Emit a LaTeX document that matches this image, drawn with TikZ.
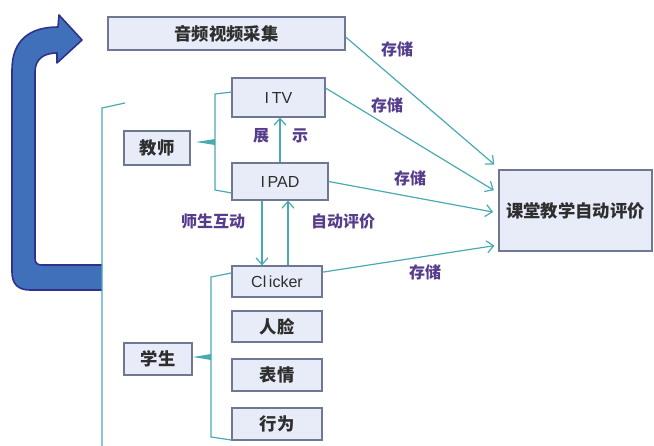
\documentclass[tikz,border=0pt]{standalone}
\usepackage{fontspec}
\setmainfont{Liberation Sans}
\newfontfamily\cjk{Noto Sans CJK SC}
\usetikzlibrary{arrows.meta,calc}
\definecolor{tealc}{HTML}{4AAAB2}
\definecolor{boxline}{HTML}{6E7892}
\definecolor{boxfill}{HTML}{E7ECF8}
\definecolor{txt}{HTML}{2E2E2E}
\definecolor{lblc}{HTML}{563C8C}
\definecolor{bigblue}{HTML}{4070BA}
\definecolor{bignavy}{HTML}{2F318C}
\begin{document}
\begin{tikzpicture}[x=0.75pt,y=-0.75pt,
  box/.style={draw=boxline, fill=boxfill, line width=0.9pt, inner sep=0pt, text=txt,
    font=\cjk\bfseries\fontsize{13}{13}\selectfont},
  latin/.style={font=\fontsize{12}{12}\selectfont},
  lbl/.style={text=lblc, font=\cjk\bfseries\fontsize{12}{12}\selectfont},
  conn/.style={draw=tealc, line width=0.9pt},
  arr/.style={conn, -{Straight Barb[length=5pt,width=9pt,line width=0.9pt]}}]
\useasboundingbox (0,0) rectangle (654,446);

% big curved arrow
\filldraw[fill=bigblue, draw=bignavy, line width=1.2pt, line join=round]
 (102,290) -- (30,290) .. controls (18,290) and (12,284) .. (12,272)
 -- (12,70) .. controls (12,40) and (30,27) .. (58,27)
 -- (59,15) -- (82,40) -- (57,63) -- (57,53)
 .. controls (45,53) and (35,58) .. (35,72)
 -- (35,258) .. controls (35,263) and (37,265) .. (42,265) -- (102,265);

% boxes
\node[box, minimum width=177.75pt, minimum height=24.75pt] (av) at (226.5,33.5) {音频视频采集};
\node[box, latin, minimum width=69.75pt, minimum height=29.25pt] (itv) at (278.5,97.5) {I\,TV};
\node[box, minimum width=49.5pt, minimum height=25.5pt] (teacher) at (157,148) {教师};
\node[box, latin, minimum width=72pt, minimum height=27.75pt] (ipad) at (280,181.5) {I\,PAD};
\node[box, latin, minimum width=67.5pt, minimum height=23.25pt] (clicker) at (277,281.5) {Cl\,icker};
\node[box, minimum width=67.5pt, minimum height=23.25pt] (face) at (277,326.5) {人脸};
\node[box, minimum width=67.5pt, minimum height=24pt] (expr) at (277,375) {表情};
\node[box, minimum width=67.5pt, minimum height=24pt] (behav) at (277,424) {行为};
\node[box, minimum width=51pt, minimum height=24pt] (student) at (158,359) {学生};
\node[box, minimum width=114.75pt, minimum height=60.75pt] (eval) at (575.5,210.5) {课堂教学自动评价};

% left vertical line
\draw[conn] (125,103) -- (102,108) -- (102,446);

% teacher bracket
\draw[conn] ([yshift=4.1pt]itv.west) -- (215,94) -- (215,190) -- ([yshift=-8.6pt]ipad.west);
\fill[tealc] (215,139) -- (215,145) -- (196,142) -- cycle;

% student bracket
\draw[conn] ([yshift=6.4pt]clicker.west) -- (211,277) -- (211,437) -- ([yshift=-12pt]behav.west);
\fill[tealc] (211,354) -- (211,360) -- (193,357) -- cycle;

% vertical arrows
\draw[arr] (ipad.north) -- (ipad.north |- itv.south);
\draw[arr] ([xshift=-13.5pt]ipad.south) -- ([xshift=-13.5pt]ipad.south |- clicker.north);
\draw[arr] ([xshift=6pt]ipad.south |- clicker.north) -- ([xshift=6pt]ipad.south);

\node[lbl] (zhan) at (261,136) {展};
\node[lbl] (shi) at (300,136) {示};
\node[lbl] (hudong) at (213,221) {师生互动};
\node[lbl] (zdpj) at (343,221) {自动评价};

% storage arrows
\draw[arr, shorten >=4pt] ([yshift=-2.6pt]av.east) -- ([yshift=31.9pt]eval.west);
\draw[arr, shorten >=4pt] ([yshift=7.1pt]itv.east) -- ([yshift=13.1pt]eval.west);
\draw[arr, shorten >=4pt] (ipad.east) -- ([yshift=-1.9pt]eval.west);
\draw[arr, shorten >=3pt] ([yshift=7pt]clicker.east) -- ([yshift=-25.9pt]eval.west);

\node[lbl] (s1) at (397,49) {存储};
\node[lbl] (s2) at (387,105) {存储};
\node[lbl] (s3) at (410,178) {存储};
\node[lbl] (s4) at (425,272) {存储};
\end{tikzpicture}
\end{document}
